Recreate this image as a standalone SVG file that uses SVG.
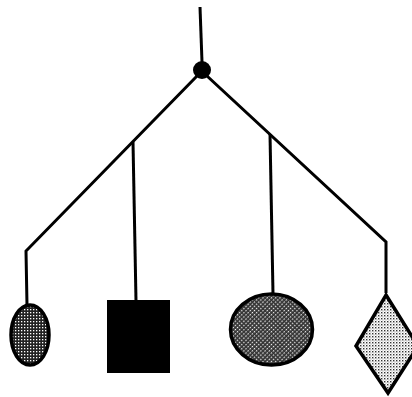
<svg xmlns="http://www.w3.org/2000/svg" width="412" height="397" viewBox="0 0 412 397">
<defs>
<pattern id="dark" width="3" height="3" patternUnits="userSpaceOnUse">
<rect width="3" height="3" fill="#222"/>
<rect x="0" y="0" width="1.3" height="1.3" fill="#fff"/>
</pattern>
<pattern id="hatch" width="3" height="3" patternUnits="userSpaceOnUse" patternTransform="rotate(45)">
<rect width="3" height="3" fill="#333"/>
<rect x="0" y="0" width="1.2" height="1.4" fill="#fff"/>
</pattern>
<pattern id="light" width="3" height="3" patternUnits="userSpaceOnUse">
<rect width="3" height="3" fill="#fff"/>
<rect x="0" y="0" width="1.4" height="1.4" fill="#333"/>
<rect x="1.5" y="1.5" width="1" height="1" fill="#888"/>
</pattern>
<style>
.c{fill:none;stroke:#000;stroke-width:3;stroke-linejoin:miter}
.s{stroke:#000;stroke-width:3.5}
</style>
</defs>
<g id="connectors">
<path class="c" d="M200,7 L202,62"/>
<path class="c" d="M197,76 L26,251 L27,305"/>
<path class="c" d="M207,76 L386,242 L386,293"/>
<path class="c" d="M133,142 L136,301"/>
<path class="c" d="M270,134 L273,294"/>
</g>
<g id="hub"><circle cx="202" cy="70" r="9" fill="#000"/></g>
<g id="small-ellipse"><ellipse class="s" cx="30" cy="335" rx="19" ry="30" fill="url(#dark)"/></g>
<g id="square"><rect x="107" y="300" width="63" height="73" fill="#000"/></g>
<g id="big-ellipse"><ellipse class="s" cx="271.5" cy="329.5" rx="41" ry="35.5" fill="url(#hatch)"/></g>
<g id="diamond"><polygon class="s" points="386,295 418,346 388,393 356,346" fill="url(#light)"/></g>
</svg>
